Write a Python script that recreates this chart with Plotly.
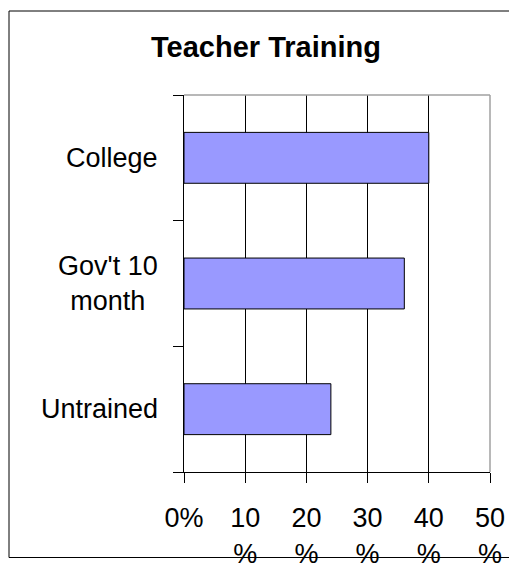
import plotly.graph_objects as go

categories = ["Untrained", "Gov't 10 month", "College"]
category_labels = ["Untrained", "Gov't 10<br>month", "College"]
values = [24, 36, 40]
tick_values = [0, 10, 20, 30, 40, 50]
tick_labels = ["0%", "10<br>%", "20<br>%", "30<br>%", "40<br>%", "50<br>%"]
title_text = "Teacher Training"

FONT = "Arial, Liberation Sans, sans-serif"

fig = go.Figure()
fig.add_trace(go.Bar(
    x=values, y=categories, orientation="h",
    width=0.405,
    marker=dict(color="#9999FF", line=dict(color="#000000", width=1)),
    hoverinfo="skip",
))

W, H = 509, 563
L, R, T, B = 184, 19, 95, 91
pw, ph = W - L - R, H - T - B

def px_x(x):
    return (x - L) / pw

def px_y(y):
    return (H - B - y) / ph

shapes = [
    # outer frame
    dict(type="rect", xref="paper", yref="paper",
         x0=px_x(9), x1=px_x(515), y0=px_y(557.5), y1=px_y(11),
         line=dict(color="#000000", width=1), layer="below"),
    # top and right plot border (gray)
    dict(type="line", xref="paper", yref="paper", x0=0, x1=1, y0=1, y1=1,
         line=dict(color="#A0A0A0", width=1.5), layer="above"),
    dict(type="line", xref="paper", yref="paper", x0=1, x1=1, y0=0, y1=1,
         line=dict(color="#A0A0A0", width=1.5), layer="above"),
]

annotations = [
    dict(text=lab, x=0, y=cat, xref="paper", yref="y", xanchor="right",
         yanchor="middle", xshift=-24, showarrow=False, align="center",
         font=dict(family=FONT, size=27, color="#000000"))
    for lab, cat in zip(category_labels, categories)
]

fig.update_layout(
    width=W, height=H, autosize=False,
    margin=dict(l=L, r=R, t=T, b=B, pad=0, autoexpand=False),
    paper_bgcolor="white", plot_bgcolor="white",
    showlegend=False,
    title=dict(text="<b>" + title_text + "</b>", x=266 / W, xref="container",
               xanchor="center", y=1 - 47 / H, yref="container", yanchor="middle",
               font=dict(family=FONT, size=29, color="#000000")),
    shapes=shapes,
    annotations=annotations,
    xaxis=dict(range=[0, 50], tickvals=tick_values, ticktext=tick_labels,
               automargin=False,
               showgrid=True, gridcolor="#000000", gridwidth=1,
               showline=True, linecolor="#000000", linewidth=1,
               ticks="outside", ticklen=10, tickcolor="#000000", tickwidth=1,
               ticklabelstandoff=12,
               tickfont=dict(family=FONT, size=27, color="#000000"),
               zeroline=False, fixedrange=True),
    yaxis=dict(type="category", categoryorder="array", categoryarray=categories,
               automargin=False,
               tickson="boundaries", ticks="outside", ticklen=10,
               tickcolor="#000000", tickwidth=1,
               showticklabels=False, showgrid=False,
               showline=True, linecolor="#000000", linewidth=1,
               zeroline=False, fixedrange=True),
)

fig.write_html(
    "out.html",
    config={"displayModeBar": False},
    post_script="document.body.style.margin='0';document.body.style.overflow='hidden';",
)
